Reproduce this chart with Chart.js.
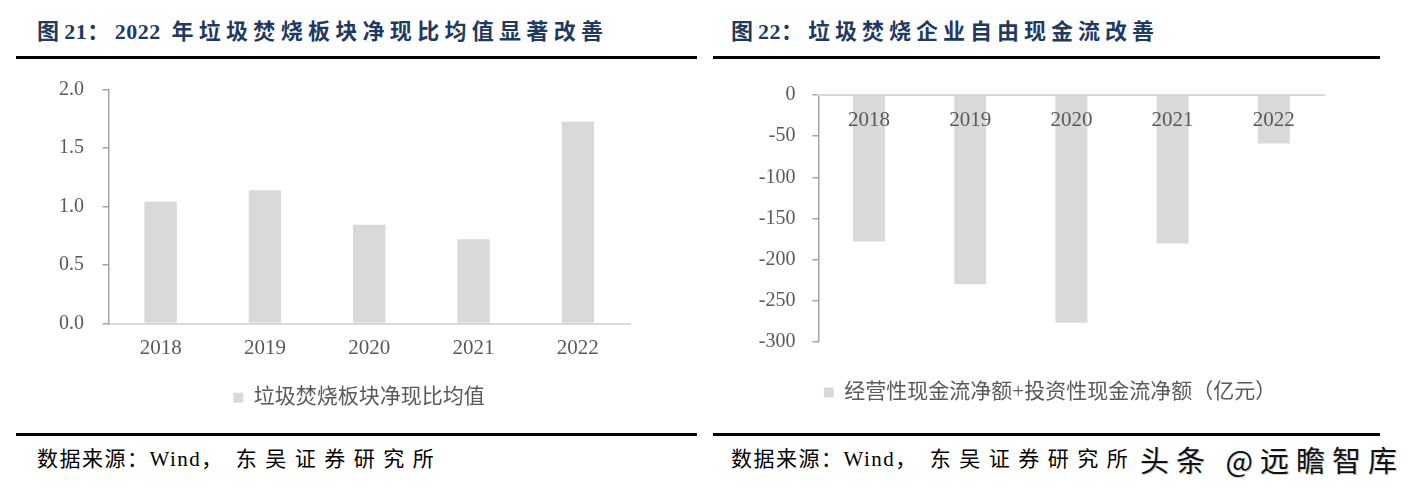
<!DOCTYPE html>
<html>
<head>
<meta charset="utf-8">
<script src="https://cdn.jsdelivr.net/npm/chart.js@4.4.0/dist/chart.umd.min.js"></script>
<style>
    body { margin: 0; background: #fff; }
    .page { position: relative; width: 1412px; height: 494px; overflow: hidden; }
    .title { position: absolute; top: 17px; font: bold 22px "Liberation Serif", "Noto Sans CJK SC", serif; letter-spacing: 5px; color: #1F3A60; line-height: 30px; white-space: nowrap; }
    .title .num { letter-spacing: 0.5px; }
    .rule { position: absolute; height: 3px; background: #000; }
    .source { position: absolute; top: 445px; font: 21px "Liberation Serif", "Noto Sans CJK SC", serif; line-height: 28px; color: #000; white-space: nowrap; letter-spacing: 1.5px; }
    .source .org { letter-spacing: 8.5px; margin-left: 12px; }
    .mark { position: absolute; top: 442px; left: 1140px; font: 29px "Noto Sans CJK SC", sans-serif; line-height: 34px; letter-spacing: 7px; color: #111; white-space: nowrap; text-shadow: 1px 1px 0 #ccc; }
    canvas { position: absolute; }
</style>
</head>
<body>
<div class="page">
    <div class="title" style="left:37px; letter-spacing:5.3px">图<span class="num">21</span>：<span class="num">2022</span> 年垃圾焚烧板块净现比均值显著改善</div>
    <div class="title" style="left:731px">图<span class="num">22</span>：垃圾焚烧企业自由现金流改善</div>
    <div class="rule" style="left:16px; width:681px; top:56px"></div>
    <div class="rule" style="left:713px; width:667px; top:56px"></div>
    <canvas id="ratioChart" width="706" height="364" style="left:0; top:59px"></canvas>
    <canvas id="cashChart" width="706" height="350" style="left:706px; top:66px"></canvas>
    <div class="rule" style="left:16px; width:681px; top:433px"></div>
    <div class="rule" style="left:713px; width:667px; top:433px"></div>
    <div class="source" style="left:37px">数据来源：Wind，<span class="org">东吴证券研究所</span></div>
    <div class="source" style="left:731px">数据来源：Wind，<span class="org">东吴证券研究所</span></div>
    <div class="mark">头条 @远瞻智库</div>
</div>
<script>
// data
const years = ['2018', '2019', '2020', '2021', '2022'];
const netCashRatio = [1.04, 1.14, 0.845, 0.72, 1.725];
const freeCashFlow = [-178, -230, -276.5, -180.5, -59];
const ratioLabel = '垃圾焚烧板块净现比均值';
const cashLabel = '经营性现金流净额+投资性现金流净额（亿元）';
const ratioAxis = { min: 0, max: 2, step: 0.5 };
const cashAxis = { min: -300, max: 0, step: 50 };

const barColor = '#D9D9D9';
const textColor = '#595959';
const axisColor = '#A6A6A6';
const serif = '"Liberation Serif", "Times New Roman", serif';
const legendFont = '"Liberation Serif", "Noto Sans CJK SC", serif';

Chart.defaults.font.family = serif;
Chart.defaults.color = textColor;

// moves the legend box after layout so it can sit off-centre like the original
const legendShift = {
    id: 'legendShift',
    afterLayout: function(chart, args, opts) {
        const lg = chart.legend;
        if (!lg) return;
        const dx = opts.dx || 0;
        const dy = opts.dy || 0;
        lg.left += dx; lg.right += dx;
        lg.top += dy; lg.bottom += dy;
    }
};

function legendOptions() {
    return {
        position: 'bottom',
        labels: {
            boxWidth: 10,
            boxHeight: 10,
            padding: 10,
            color: textColor,
            font: { family: legendFont, size: 21 }
        }
    };
}

function yScale(range, pad, width) {
    return {
        min: range.min,
        max: range.max,
        ticks: {
            stepSize: range.step,
            padding: pad,
            font: { size: 20 },
            color: textColor,
            callback: function(v) {
                return range.step < 1 ? Number(v).toFixed(1) : v;
            }
        },
        grid: { drawOnChartArea: false, tickLength: 6, color: axisColor, lineWidth: 1.5 },
        border: { color: axisColor, width: 1.5 },
        afterFit: function(s) { s.width = width; }
    };
}

// Chart 21
new Chart(document.getElementById('ratioChart'), {
    type: 'bar',
    data: {
        labels: years,
        datasets: [{
            label: ratioLabel,
            data: netCashRatio,
            backgroundColor: barColor,
            barPercentage: 0.31,
            categoryPercentage: 1
        }]
    },
    options: {
        responsive: false,
        animation: false,
        layout: { padding: { left: 10, right: 76, top: 8, bottom: 4.7 } },
        plugins: {
            legend: legendOptions(),
            tooltip: { enabled: false },
            legendShift: { dx: 39, dy: 0 }
        },
        scales: {
            x: {
                grid: { display: false, drawTicks: false },
                border: { color: barColor, width: 2 },
                ticks: { padding: 12, font: { size: 21 }, color: textColor },
                afterFit: function(s) { s.height = 53.7; }
            },
            y: yScale(ratioAxis, 18.5, 98.5)
        }
    },
    plugins: [legendShift]
});

// Chart 22 - category labels sit just under the zero line
new Chart(document.getElementById('cashChart'), {
    type: 'bar',
    data: {
        labels: years,
        datasets: [{
            label: cashLabel,
            data: freeCashFlow,
            backgroundColor: barColor,
            barPercentage: 0.316,
            categoryPercentage: 1
        }]
    },
    options: {
        responsive: false,
        animation: false,
        layout: { padding: { left: 10, right: 87.6, top: 20, bottom: 33 } },
        plugins: {
            legend: legendOptions(),
            tooltip: { enabled: false },
            legendShift: { dx: 29.8, dy: 30 }
        },
        scales: {
            x: {
                position: { y: 0 },
                grid: { display: false, drawTicks: false },
                border: { color: barColor, width: 2, z: 1 },
                ticks: { padding: 13, font: { size: 21 }, color: textColor, z: 1 }
            },
            y: yScale(cashAxis, 17, 102.4)
        }
    },
    plugins: [legendShift]
});
</script>
</body>
</html>
